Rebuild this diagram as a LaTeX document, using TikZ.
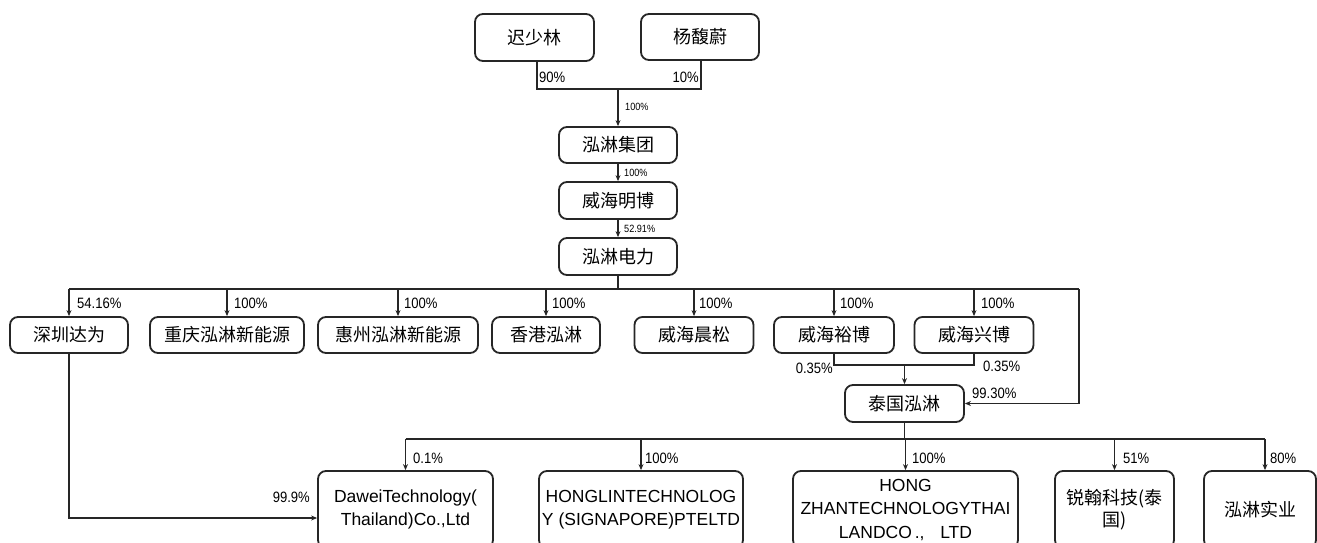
\documentclass[tikz,border=0pt]{standalone}
\usepackage{fontspec}
\setmainfont{Liberation Sans}
\newfontfamily\cjk{Noto Sans CJK SC}
\newfontfamily\lbl[FakeStretch=0.87]{Liberation Sans}
\usetikzlibrary{arrows.meta}
\begin{document}
\begin{tikzpicture}[x=1pt,y=-1pt,
  box/.style={draw=black!85, line width=1.8pt, rounded corners=8pt, inner sep=0pt, align=center},
  cn/.style={box, font=\cjk\fontsize{18}{22}\selectfont},
  en/.style={box, font=\fontsize{17.5}{23.5}\selectfont},
  arr/.style={-{Stealth[length=6pt,width=5pt]}},
  conn/.style={line width=1.2pt, draw=black!85},
  pct/.style={inner sep=0pt, font=\lbl\fontsize{15}{18}\selectfont},
  spct/.style={inner sep=0pt, font=\lbl\fontsize{10.5}{12}\selectfont}]
\useasboundingbox[fill=white] (0,0) rectangle (1317,542);

% top owners
\node[cn, minimum width=119pt, minimum height=47pt] (A) at (534.5,37.5) {迟少林};
\node[cn, minimum width=118pt, minimum height=46pt] (B) at (700,37) {杨馥蔚};
\node[cn, minimum width=118pt, minimum height=36pt] (C) at (618,145) {泓淋集团};
\node[cn, minimum width=118pt, minimum height=37pt] (D) at (618,200.5) {威海明博};
\node[cn, minimum width=118pt, minimum height=37pt] (E) at (618,256.5) {泓淋电力};

% second row
\node[cn, minimum width=118pt, minimum height=36pt] (F1) at (69,335) {深圳达为};
\node[cn, minimum width=154pt, minimum height=36pt] (F2) at (227,335) {重庆泓淋新能源};
\node[cn, minimum width=160pt, minimum height=36pt] (F3) at (398,335) {惠州泓淋新能源};
\node[cn, minimum width=108pt, minimum height=36pt] (F4) at (546,335) {香港泓淋};
\node[cn, minimum width=119pt, minimum height=36pt] (F5) at (694,335) {威海晨松};
\node[cn, minimum width=120pt, minimum height=36pt] (F6) at (834,335) {威海裕博};
\node[cn, minimum width=119pt, minimum height=36pt] (F7) at (974,335) {威海兴博};

\node[cn, minimum width=119pt, minimum height=37pt] (G) at (904.5,403.5) {泰国泓淋};

% bottom row
\node[en, minimum width=175pt, minimum height=77pt] (H1) at (405.5,509.5) {DaweiTechnology(\\Thailand)Co.,Ltd};
\node[en, minimum width=204pt, minimum height=77pt] (H2) at (641,509.5) {HONGLINTECHNOLOG\\Y (SIGNAPORE)PTELTD};
\node[en, minimum width=225pt, minimum height=77pt] (H3) at (905.5,509.5) {HONG\\ZHANTECHNOLOGYTHAI\\LANDCO\,.,\hspace{0.9em}LTD};
\node[cn, minimum width=119pt, minimum height=77pt] (H4) at (1114.5,509.5) {锐翰科技(泰\\国)};
\node[cn, minimum width=112pt, minimum height=77pt] (H5) at (1260,509.5) {泓淋实业};

% coordinates
\coordinate (ja) at (537,89);
\coordinate (jb) at (701,89);
\coordinate (j1) at (618,89);
\coordinate (bus) at (618,289);
\coordinate (busR) at (1079,289);
\coordinate (m) at (904.5,365);
\coordinate (bus2) at (904.5,439);
\coordinate (b5) at (1265,439);
\coordinate (dw) at (69,518);

% connectors top
\draw[conn] (ja |- A.south) -- (ja) -- (jb) -- (jb |- B.south);
\draw[conn,arr] (j1) -- (C.north);
\draw[conn,arr] (C.south) -- (D.north);
\draw[conn,arr] (D.south) -- (E.north);
\draw[conn] (E.south) -- (bus);
\draw[conn] (F1 |- bus) -- (busR);
\foreach \n in {F1,F2,F3,F4,F5,F6,F7}{
  \draw[conn,arr] (\n |- bus) -- (\n.north);
}
\draw[conn,arr] (busR) |- (G.east);
\draw[conn] (F6.south) |- (m) -| (F7.south);
\draw[conn,arr] (m) -- (G.north);
\draw[conn] (G.south) -- (bus2);
\draw[conn] (H1 |- bus2) -- (b5);
\foreach \n in {H1,H2,H3,H4}{
  \draw[conn,arr] (\n |- bus2) -- (\n.north);
}
\draw[conn,arr] (b5) -- (b5 |- H5.north);
\draw[conn,arr] (F1.south) -- (dw) -- (dw -| H1.west);

% labels
\node[pct, anchor=west] (l90) at (539,77) {90\%};
\node[pct, anchor=east] (l10) at (699,77) {10\%};
\node[spct, anchor=west] (l100a) at (625,107) {100\%};
\node[spct, anchor=west] (l100b) at (624,173) {100\%};
\node[spct, anchor=west] (l5291) at (624,229) {52.91\%};
\node[pct, anchor=west] (r1) at (77,303) {54.16\%};
\node[pct, anchor=west] (r2) at (234,303) {100\%};
\node[pct, anchor=west] (r3) at (404,303) {100\%};
\node[pct, anchor=west] (r4) at (552,303) {100\%};
\node[pct, anchor=west] (r5) at (699,303) {100\%};
\node[pct, anchor=west] (r6) at (840,303) {100\%};
\node[pct, anchor=west] (r7) at (981,303) {100\%};
\node[pct, anchor=east] (q1) at (833,368) {0.35\%};
\node[pct, anchor=west] (q2) at (983,366) {0.35\%};
\node[pct, anchor=west] (q3) at (972,393) {99.30\%};
\node[pct, anchor=east] (q4) at (310,497) {99.9\%};
\node[pct, anchor=west] (s1) at (413,458) {0.1\%};
\node[pct, anchor=west] (s2) at (645,458) {100\%};
\node[pct, anchor=west] (s3) at (912,458) {100\%};
\node[pct, anchor=west] (s4) at (1123,458) {51\%};
\node[pct, anchor=west] (s5) at (1270,458) {80\%};
\end{tikzpicture}
\end{document}
